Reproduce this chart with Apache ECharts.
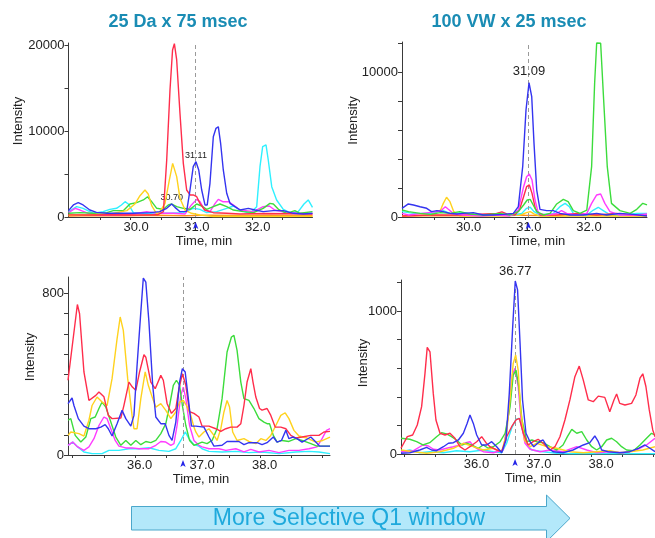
<!DOCTYPE html>
<html><head><meta charset="utf-8">
<script src="https://cdn.jsdelivr.net/npm/echarts@6/dist/echarts.min.js"></script>
<style>html,body{margin:0;padding:0;background:#fff}#c{width:655px;height:538px}</style>
</head><body><div id="c"></div>
<script>
// ---------------- titles / labels ----------------
const panelTitles = ['25 Da x 75 msec', '100 VW x 25 msec'];
const bannerText = 'More Selective Q1 window';

// ---------------- panel 1 (25 Da x 75 msec, 29-33 min) ----------------
const p1XTicks = [29.5,30,30.5,31,31.5,32,32.5];
const p1XLabels = [30,31,32];
const p1YTicks = [0,5000,10000,15000,20000];
const p1YLabels = [0,10000,20000];
const p1Mark = 31.07;
const p1PeakLabels = [['31.11',31.075,6430],['30.70',30.676,1512]];
const p1Orange = [[28.98,120],[29.4,180],[29.9,150],[30.4,200],[30.9,150],[31.3,220],[31.8,170],[32.3,200],[32.99,150]];
const p1Red = [[28.98,250],[29.3,230],[29.7,260],[30.1,240],[30.45,260],[30.54,620],[30.594,6630],[30.648,14770],[30.69,19420],[30.72,20150],[30.758,18260],[30.812,12060],[30.867,6240],[30.922,3140],[30.977,2560],[31.03,2560],[31.087,2360],[31.14,1590],[31.22,810],[31.36,500],[31.58,430],[31.8,350],[32.2,400],[32.6,380],[32.99,350]];
const p1Yellow = [[28.98,230],[29.3,250],[29.66,350],[29.94,740],[30.07,1510],[30.155,2480],[30.237,3140],[30.29,2680],[30.347,1320],[30.43,350],[30.483,620],[30.566,1590],[30.637,4300],[30.692,6240],[30.72,6320],[30.758,4690],[30.812,2170],[30.895,810],[31.0,430],[31.14,230],[31.36,60],[31.8,80],[32.3,60],[32.99,80]];
const p1Cyan = [[28.98,620],[29.115,1200],[29.22,1010],[29.39,430],[29.55,620],[29.66,890],[29.77,1010],[29.85,1400],[29.91,1780],[29.963,1510],[30.045,510],[30.21,430],[30.43,430],[30.648,430],[30.867,510],[31.03,1010],[31.14,890],[31.25,510],[31.415,620],[31.58,1010],[31.69,1280],[31.8,810],[31.963,430],[32.073,1200],[32.127,5850],[32.171,8180],[32.226,8380],[32.263,6630],[32.32,3530],[32.4,1980],[32.51,890],[32.62,510],[32.756,620],[32.85,1510],[32.92,1980],[32.99,1120]];
const p1Green = [[28.98,430],[29.17,510],[29.39,430],[29.61,510],[29.716,740],[29.88,740],[29.99,1510],[30.1,1670],[30.21,1980],[30.28,2360],[30.347,1780],[30.43,1010],[30.54,890],[30.62,1400],[30.676,1510],[30.758,1200],[30.867,1010],[30.977,890],[31.087,1510],[31.17,1280],[31.25,890],[31.36,1200],[31.47,1510],[31.58,1200],[31.69,810],[31.855,620],[32.02,510],[32.18,1010],[32.29,1590],[32.346,1510],[32.43,890],[32.565,430],[32.7,740],[32.785,430],[32.99,620]];
const p1Magenta = [[28.98,510],[29.09,1010],[29.17,810],[29.305,430],[29.5,230],[29.77,230],[30.045,350],[30.265,620],[30.43,430],[30.7,430],[30.895,350],[31.0,1400],[31.087,2050],[31.14,1780],[31.22,810],[31.305,620],[31.39,1590],[31.442,2050],[31.515,1780],[31.61,1780],[31.69,1400],[31.8,810],[32.02,620],[32.18,1200],[32.28,1280],[32.37,810],[32.565,510],[32.785,430],[32.99,350]];
const p1Blue = [[28.98,740],[29.06,1400],[29.14,1670],[29.22,1400],[29.33,810],[29.44,540],[29.61,430],[29.83,430],[30.05,430],[30.32,510],[30.48,620],[30.594,1010],[30.676,1510],[30.73,1120],[30.812,620],[30.922,650],[30.977,3140],[31.03,5850],[31.075,6430],[31.12,5470],[31.169,3140],[31.223,1400],[31.26,1400],[31.305,3920],[31.36,9340],[31.404,10310],[31.442,10500],[31.48,8570],[31.524,5470],[31.58,2760],[31.634,1590],[31.716,1200],[31.8,810],[31.935,1010],[32.045,810],[32.18,620],[32.346,740],[32.51,740],[32.675,430],[32.84,350],[32.99,430]];

// ---------------- panel 2 (100 VW x 25 msec, 29-33 min) ----------------
const p2XTicks = [29.5,30,30.5,31,31.5,32,32.5];
const p2XLabels = [30,31,32];
const p2YTicks = [0,2000,4000,6000,8000,10000,12000];
const p2YLabels = [0,10000];
const p2Mark = 31.06;
const p2PeakLabels = [['31.09',31.07,9260]];
const p2Orange = [[28.96,60],[29.5,100],[30.0,80],[30.6,150],[31.0,120],[31.5,90],[32.0,140],[32.5,100],[33.03,80]];
const p2Red = [[28.96,70],[29.43,140],[29.98,140],[30.53,250],[30.62,350],[30.7,210],[30.836,140],[30.91,480],[30.98,1400],[31.03,2090],[31.075,2210],[31.12,1630],[31.175,600],[31.252,140],[31.53,140],[31.86,250],[32.194,140],[32.525,250],[32.75,140],[33.03,140]];
const p2Yellow = [[28.96,70],[29.43,140],[29.6,480],[29.646,940],[29.7,1360],[29.757,1060],[29.82,370],[29.92,70],[30.26,70],[30.64,70],[30.92,140],[31.03,300],[31.09,370],[31.153,210],[31.252,70],[33.03,70]];
const p2Cyan = [[28.96,370],[29.15,250],[29.43,250],[29.646,440],[29.757,250],[29.98,300],[30.2,140],[30.53,140],[30.81,140],[30.95,250],[31.03,600],[31.09,670],[31.153,370],[31.252,140],[31.473,250],[31.584,710],[31.67,940],[31.74,710],[31.806,250],[32.03,140],[32.14,480],[32.22,670],[32.29,480],[32.39,210],[32.64,140],[32.86,250],[33.03,250]];
const p2Green = [[28.96,480],[29.07,370],[29.26,250],[29.43,180],[29.6,300],[29.757,250],[29.92,370],[30.09,210],[30.31,140],[30.59,250],[30.75,140],[30.892,370],[30.98,830],[31.04,1170],[31.09,1220],[31.14,830],[31.198,370],[31.31,140],[31.42,250],[31.53,900],[31.64,1220],[31.72,1060],[31.806,440],[31.917,250],[32.03,480],[32.11,3470],[32.16,9220],[32.194,12000],[32.26,11980],[32.31,8070],[32.37,3470],[32.44,940],[32.58,440],[32.75,250],[32.86,530],[32.96,940],[33.03,830]];
const p2Magenta = [[28.96,250],[29.07,140],[29.29,250],[29.54,370],[29.62,480],[29.68,710],[29.73,530],[29.81,250],[29.98,140],[30.26,70],[30.53,140],[30.75,70],[30.892,480],[30.98,2090],[31.03,2780],[31.075,2970],[31.12,2550],[31.17,1170],[31.225,250],[31.363,140],[31.53,250],[31.61,440],[31.695,250],[31.86,140],[32.03,250],[32.11,940],[32.194,1520],[32.26,1590],[32.33,940],[32.415,370],[32.58,140],[32.86,140],[33.03,210]];
const p2Blue = [[28.96,600],[29.065,900],[29.15,830],[29.26,710],[29.37,600],[29.45,370],[29.54,440],[29.646,370],[29.757,250],[29.87,210],[29.98,250],[30.144,300],[30.31,140],[30.477,140],[30.643,180],[30.81,250],[30.892,710],[30.965,3470],[31.02,7380],[31.07,9260],[31.115,8300],[31.153,5080],[31.198,1860],[31.252,530],[31.363,440],[31.473,440],[31.584,250],[31.75,140],[31.97,140],[32.194,250],[32.36,140],[32.58,250],[32.8,180],[33.03,70]];

// ---------------- panel 3 (25 Da x 75 msec, 35-39 min) ----------------
const p3XTicks = [35,35.5,36,36.5,37,37.5,38,38.5,39];
const p3XLabels = [36,37,38];
const p3YTicks = [0,100,200,300,400,500,600,700,800];
const p3YLabels = [0,800];
const p3Mark = 36.765;
const p3PeakLabels = [];
const p3Cyan = [[34.925,48],[35.0,64],[35.08,40],[35.18,15],[35.31,7],[35.47,7],[35.58,23],[35.74,23],[35.9,31],[36.06,31],[36.22,36],[36.38,23],[36.54,18],[36.65,31],[36.73,72],[36.8,114],[36.86,81],[36.94,51],[37.02,44],[37.07,31],[37.18,18],[37.39,15],[37.61,18],[37.82,12],[38.03,15],[38.3,7],[38.57,15],[38.78,18],[38.94,15],[39.117,7]];
const p3Magenta = [[34.925,48],[35.0,64],[35.08,40],[35.18,23],[35.26,40],[35.34,81],[35.42,146],[35.5,188],[35.55,180],[35.61,130],[35.68,72],[35.74,44],[35.85,35],[35.95,35],[36.06,31],[36.22,31],[36.33,48],[36.41,67],[36.49,64],[36.57,48],[36.62,56],[36.67,146],[36.73,295],[36.77,336],[36.81,279],[36.87,146],[36.94,72],[37.02,48],[37.07,40],[37.18,31],[37.34,31],[37.45,23],[37.61,31],[37.74,15],[37.85,28],[37.98,15],[38.14,23],[38.3,12],[38.46,23],[38.62,23],[38.78,31],[38.91,40],[38.99,81],[39.06,122],[39.117,130]];
const p3Green = [[34.925,172],[34.97,180],[35.04,97],[35.13,64],[35.21,89],[35.29,180],[35.36,188],[35.42,230],[35.47,262],[35.53,237],[35.61,163],[35.69,89],[35.77,48],[35.85,72],[35.93,48],[36.01,72],[36.09,51],[36.17,67],[36.25,61],[36.33,72],[36.41,106],[36.49,155],[36.55,245],[36.61,345],[36.66,370],[36.71,345],[36.755,245],[36.81,146],[36.87,72],[36.94,48],[37.07,64],[37.15,56],[37.23,72],[37.31,130],[37.39,279],[37.47,510],[37.54,584],[37.58,592],[37.63,518],[37.69,361],[37.74,279],[37.82,270],[37.9,230],[37.98,180],[38.06,163],[38.11,155],[38.15,155],[38.21,97],[38.27,64],[38.35,72],[38.46,67],[38.57,81],[38.67,72],[38.81,56],[38.91,44],[39.117,44]];
const p3Yellow = [[34.925,97],[34.97,114],[35.1,106],[35.18,94],[35.26,172],[35.31,245],[35.39,287],[35.47,262],[35.55,245],[35.63,378],[35.71,575],[35.76,683],[35.81,617],[35.88,378],[35.95,196],[35.98,130],[36.03,130],[36.09,279],[36.16,411],[36.21,345],[36.28,279],[36.33,237],[36.41,254],[36.49,221],[36.57,180],[36.65,213],[36.71,262],[36.77,270],[36.82,245],[36.89,196],[36.94,138],[36.97,114],[37.02,89],[37.1,114],[37.18,130],[37.26,97],[37.31,72],[37.37,130],[37.42,213],[37.47,270],[37.51,237],[37.56,114],[37.63,72],[37.74,81],[37.82,67],[37.93,56],[38.01,81],[38.09,72],[38.17,97],[38.25,146],[38.33,196],[38.4,209],[38.46,180],[38.54,122],[38.62,94],[38.75,84],[38.89,64],[39.0,72],[39.117,89]];
const p3Red = [[34.925,370],[35.075,745],[35.11,699],[35.18,411],[35.26,270],[35.37,295],[35.42,312],[35.5,288],[35.57,196],[35.63,180],[35.77,183],[35.82,246],[35.9,361],[35.955,336],[36.01,320],[36.07,411],[36.14,496],[36.17,484],[36.25,361],[36.32,328],[36.41,394],[36.45,370],[36.51,255],[36.58,206],[36.65,230],[36.7,328],[36.755,402],[36.81,345],[36.87,214],[36.94,206],[37.02,188],[37.07,143],[37.18,143],[37.29,130],[37.37,117],[37.45,130],[37.53,138],[37.63,138],[37.69,155],[37.74,245],[37.79,361],[37.85,427],[37.885,361],[37.93,287],[37.99,230],[38.03,222],[38.11,230],[38.17,196],[38.24,138],[38.33,138],[38.41,130],[38.49,97],[38.57,84],[38.67,89],[38.81,97],[38.94,97],[39.02,114],[39.117,117]];
const p3Blue = [[34.925,254],[34.99,282],[35.02,245],[35.09,180],[35.18,143],[35.26,130],[35.37,130],[35.45,138],[35.52,150],[35.57,130],[35.63,94],[35.71,155],[35.79,221],[35.85,180],[35.93,143],[35.98,196],[36.03,443],[36.09,707],[36.13,876],[36.17,856],[36.22,658],[36.28,345],[36.33,188],[36.41,155],[36.48,155],[36.54,97],[36.59,72],[36.65,163],[36.71,361],[36.755,427],[36.8,411],[36.85,279],[36.9,143],[36.97,143],[37.1,138],[37.18,89],[37.26,44],[37.39,48],[37.47,67],[37.66,67],[37.74,51],[37.82,61],[37.95,61],[38.03,51],[38.11,61],[38.21,89],[38.27,64],[38.34,72],[38.41,122],[38.46,81],[38.52,89],[38.59,81],[38.67,64],[38.81,89],[38.89,64],[38.95,44],[39.117,44]];

// ---------------- panel 4 (100 VW x 25 msec, 35-39 min) ----------------
const p4XTicks = [35,35.5,36,36.5,37,37.5,38,38.5,39];
const p4XLabels = [36,37,38];
const p4YTicks = [0,200,400,600,800,1000,1200];
const p4YLabels = [0,1000];
const p4Mark = 36.78;
const p4PeakLabels = [['36.77',36.783,1210]];
const p4Cyan = [[34.949,16],[35.09,28],[35.25,9],[35.41,16],[35.63,9],[35.84,23],[36.056,16],[36.27,28],[36.43,16],[36.565,9],[36.645,75],[36.725,180],[36.795,243],[36.848,249],[36.9,168],[36.97,63],[37.05,28],[37.23,16],[37.45,5],[37.66,2],[39.026,2]];
const p4Magenta = [[34.949,16],[35.15,23],[35.3,63],[35.39,56],[35.47,33],[35.575,28],[35.68,40],[35.79,51],[35.9,63],[35.99,79],[36.056,86],[36.12,51],[36.19,33],[36.27,16],[36.43,9],[36.59,28],[36.67,261],[36.735,552],[36.78,599],[36.83,471],[36.88,214],[36.94,75],[37.02,33],[37.18,16],[37.34,28],[37.55,16],[37.77,51],[37.93,28],[38.09,9],[38.3,16],[38.52,9],[38.73,28],[38.89,63],[39.026,110]];
const p4Green = [[34.949,110],[35.09,103],[35.2,86],[35.3,63],[35.41,79],[35.52,121],[35.6,149],[35.68,140],[35.76,121],[35.84,98],[35.925,63],[36.0,75],[36.08,63],[36.19,40],[36.27,63],[36.35,40],[36.43,51],[36.54,86],[36.62,145],[36.7,331],[36.75,552],[36.795,587],[36.84,471],[36.89,238],[36.97,86],[37.05,98],[37.125,86],[37.23,79],[37.34,51],[37.45,28],[37.55,63],[37.62,121],[37.69,172],[37.77,145],[37.85,156],[37.93,98],[38.01,51],[38.09,28],[38.17,51],[38.25,98],[38.33,110],[38.41,86],[38.49,51],[38.57,28],[38.68,23],[38.785,63],[38.89,110],[38.97,145],[39.026,133]];
const p4Yellow = [[34.949,28],[35.15,16],[35.36,5],[35.575,16],[35.79,40],[35.95,75],[36.11,51],[36.27,28],[36.43,40],[36.565,16],[36.645,145],[36.698,378],[36.75,634],[36.79,692],[36.83,587],[36.87,308],[36.93,98],[37.02,51],[37.125,75],[37.29,51],[37.45,40],[37.66,16],[37.875,9],[38.09,16],[38.3,23],[38.46,9],[38.62,16],[38.83,28],[39.026,51]];
const p4Red = [[34.949,40],[34.976,51],[35.05,121],[35.136,133],[35.21,203],[35.28,331],[35.334,564],[35.37,746],[35.414,715],[35.467,424],[35.51,238],[35.575,145],[35.655,133],[35.735,145],[35.815,110],[35.896,51],[35.976,28],[36.056,51],[36.164,86],[36.244,121],[36.313,79],[36.377,51],[36.485,28],[36.565,16],[36.645,121],[36.725,191],[36.795,238],[36.848,249],[36.912,145],[36.99,63],[37.07,86],[37.15,103],[37.23,75],[37.34,28],[37.42,51],[37.5,121],[37.58,238],[37.66,378],[37.74,541],[37.81,615],[37.875,517],[37.955,378],[38.035,366],[38.116,405],[38.22,396],[38.3,296],[38.367,378],[38.41,420],[38.46,354],[38.544,343],[38.65,354],[38.72,413],[38.785,530],[38.83,561],[38.88,472],[38.934,308],[38.99,168],[39.026,121]];
const p4Blue = [[34.949,5],[35.09,9],[35.25,28],[35.36,47],[35.44,28],[35.52,23],[35.63,51],[35.71,75],[35.79,79],[35.87,98],[35.95,145],[36.01,214],[36.056,273],[36.11,214],[36.164,133],[36.244,63],[36.324,63],[36.405,86],[36.485,51],[36.565,9],[36.634,98],[36.687,424],[36.742,891],[36.783,1210],[36.82,1148],[36.86,774],[36.9,378],[36.955,145],[37.02,86],[37.08,51],[37.17,86],[37.23,98],[37.31,40],[37.39,16],[37.55,9],[37.71,28],[37.875,63],[37.98,79],[38.06,126],[38.116,86],[38.17,28],[38.276,16],[38.46,9],[38.62,16],[38.76,40],[38.865,63],[38.945,40],[39.026,16]];

// ---------------- styling / layout ----------------
const FONT = 'Liberation Sans, Arial, sans-serif';
const COLORS = {orange:'#ff8c1a', cyan:'#2ff0ff', magenta:'#ff3cff', green:'#3cdc3c', yellow:'#ffd21e', red:'#ff2d4b', blue:'#3434f0'};
const panels = [
  {grid:{left:68.5, top:43, width:244, height:174}, xr:[28.98,32.99], yMax:20233,
   xt:p1XTicks, xl:p1XLabels, yt:p1YTicks, yl:p1YLabels, mark:p1Mark, peaks:p1PeakLabels, peakFont:9, peakDist:1,
   lblShift:11, xNameShift:27, yNameGap:44, yNameUp:18,
   lines:[['orange',p1Orange],['cyan',p1Cyan],['magenta',p1Magenta],['green',p1Green],['yellow',p1Yellow],['red',p1Red],['blue',p1Blue]]},
  {grid:{left:402, top:42, width:245, height:175}, xr:[28.96,33.03], yMax:12070,
   xt:p2XTicks, xl:p2XLabels, yt:p2YTicks, yl:p2YLabels, mark:p2Mark, peaks:p2PeakLabels, peakFont:13, peakDist:4,
   lblShift:8, xNameShift:25, yNameGap:42.5, yNameUp:18,
   lines:[['orange',p2Orange],['yellow',p2Yellow],['cyan',p2Cyan],['red',p2Red],['magenta',p2Magenta],['green',p2Green],['blue',p2Blue]]},
  {grid:{left:68, top:277, width:262, height:178}, xr:[34.925,39.117], yMax:881,
   xt:p3XTicks, xl:p3XLabels, yt:p3YTicks, yl:p3YLabels, mark:p3Mark, peaks:p3PeakLabels, peakFont:13, peakDist:4,
   lblShift:9, xNameShift:4, yNameGap:31.5, yNameUp:18,
   lines:[['cyan',p3Cyan],['magenta',p3Magenta],['green',p3Green],['yellow',p3Yellow],['red',p3Red],['blue',p3Blue]]},
  {grid:{left:401, top:280, width:254, height:174}, xr:[34.949,39.026], yMax:1217,
   xt:p4XTicks, xl:p4XLabels, yt:p4YTicks, yl:p4YLabels, mark:p4Mark, peaks:p4PeakLabels, peakFont:13, peakDist:3,
   lblShift:20, xNameShift:10, yNameGap:31.5, yNameUp:8,
   lines:[['cyan',p4Cyan],['magenta',p4Magenta],['green',p4Green],['yellow',p4Yellow],['red',p4Red],['blue',p4Blue]]}
];

const grids = [], xAxes = [], yAxes = [], series = [];
const axisCol = '#3a3a3a', txtCol = '#222';
panels.forEach((p, i) => {
  grids.push(Object.assign({containLabel:false}, p.grid));
  xAxes.push({type:'value', gridIndex:i, min:p.xr[0], max:p.xr[1],
    name:'Time, min', nameLocation:'middle', nameGap:18, nameMoveOverlap:false,
    nameTextStyle:{fontFamily:FONT, fontSize:13, color:txtCol, padding:[0,0,0,p.xNameShift]},
    axisLine:{show:true, onZero:false, lineStyle:{color:axisCol, width:1}},
    axisTick:{show:true, length:3, customValues:p.xt, lineStyle:{color:axisCol}},
    axisLabel:{customValues:p.xl, margin:4, fontFamily:FONT, fontSize:13, color:txtCol,
      padding:[0,0,0,p.lblShift], formatter:v => Number(v).toFixed(1)},
    splitLine:{show:false}});
  yAxes.push({type:'value', gridIndex:i, min:0, max:p.yMax,
    name:'Intensity', nameLocation:'middle', nameRotate:90, nameGap:p.yNameGap, nameMoveOverlap:false,
    nameTextStyle:{fontFamily:FONT, fontSize:13, color:txtCol, padding:[0,0,0,p.yNameUp]},
    axisLine:{show:true, lineStyle:{color:axisCol, width:1}},
    axisTick:{show:true, length:4, customValues:p.yt, lineStyle:{color:axisCol}},
    axisLabel:{customValues:p.yl, margin:4, fontFamily:FONT, fontSize:13, color:txtCol,
      formatter:v => String(Math.round(v))},
    splitLine:{show:false}});
  p.lines.forEach(([col, data], k) => {
    const s = {type:'line', name:col, xAxisIndex:i, yAxisIndex:i, data:data,
      showSymbol:false, symbol:'none', animation:false, z:2+k,
      lineStyle:{color:COLORS[col], width:1.4}, itemStyle:{color:COLORS[col]}};
    if (col === 'blue') {
      s.markLine = {silent:true, animation:false, symbol:['none','none'], label:{show:false},
        lineStyle:{color:'#9a9a9a', type:[4,3], width:1}, data:[{xAxis:p.mark}]};
      const mp = [{coord:[p.mark, 0], symbol:'arrow', symbolSize:[4,7], symbolOffset:[0,5],
        itemStyle:{color:'#2424e8'}, label:{show:false}}];
      p.peaks.forEach(([txt, t, v]) => mp.push({coord:[t, v], symbol:'circle', symbolSize:1,
        itemStyle:{color:'rgba(0,0,0,0)'},
        label:{show:true, position:'top', distance:p.peakDist, formatter:txt,
          fontFamily:FONT, fontSize:p.peakFont, color:txtCol}}));
      s.markPoint = {silent:true, animation:false, data:mp};
    }
    series.push(s);
  });
});

const chart = echarts.init(document.getElementById('c'));
chart.setOption({
  backgroundColor:'#ffffff', animation:false,
  grid:grids, xAxis:xAxes, yAxis:yAxes, series:series,
  graphic:[
    {type:'text', x:178, y:22, style:{text:panelTitles[0], font:'bold 18px ' + FONT, fill:'#1a8cb4',
      textAlign:'center', textVerticalAlign:'middle', align:'center', verticalAlign:'middle'}},
    {type:'text', x:509, y:22, style:{text:panelTitles[1], font:'bold 18px ' + FONT, fill:'#1a8cb4',
      textAlign:'center', textVerticalAlign:'middle', align:'center', verticalAlign:'middle'}},
    {type:'polygon', shape:{points:[[131.5,506.5],[546.5,506.5],[546.5,495],[570,518.3],[546.5,541.6],[546.5,530],[131.5,530]]},
      style:{fill:'#b3e8fa', stroke:'#4ba7cb', lineWidth:1}},
    {type:'text', x:349, y:518.5, style:{text:bannerText, font:'23px ' + FONT, fill:'#1ea9dc',
      textAlign:'center', textVerticalAlign:'middle', align:'center', verticalAlign:'middle'}}
  ]
});
</script></body></html>
